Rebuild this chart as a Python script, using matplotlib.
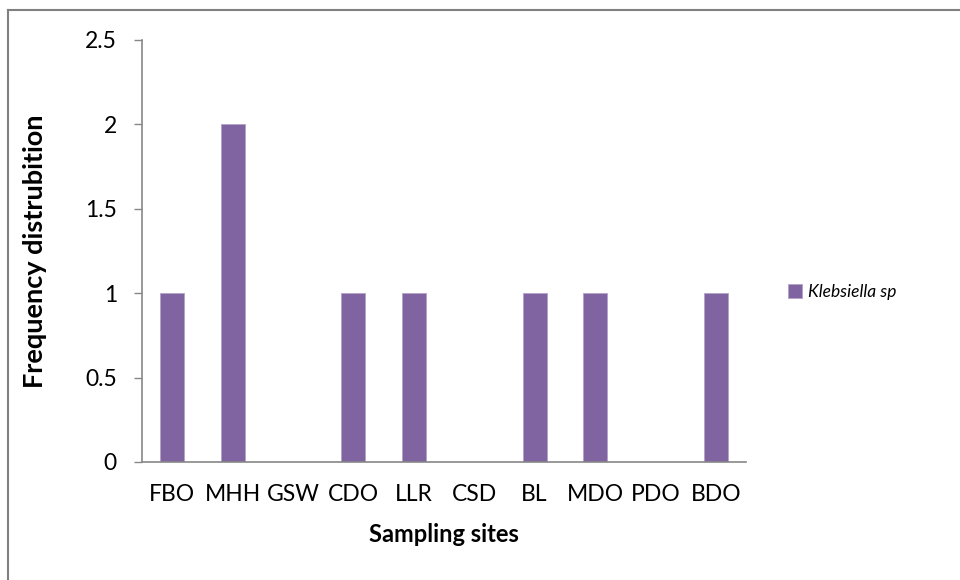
import matplotlib
matplotlib.use("Agg")
import matplotlib.pyplot as plt
from matplotlib.lines import Line2D
from matplotlib.patches import Patch

# Data
sites = ['FBO', 'MHH', 'GSW', 'CDO', 'LLR', 'CSD', 'BL', 'MDO', 'PDO', 'BDO']
klebsiella = [1, 2, 0, 1, 1, 0, 1, 1, 0, 1]
y_ticks = [0, 0.5, 1, 1.5, 2, 2.5]
y_ticklabels = ['0', '0.5', '1', '1.5', '2', '2.5']
series_name = 'Klebsiella sp'

bar_color = '#8064A2'
axis_color = '#878787'
W, H = 960, 580

plt.rcParams['font.family'] = ['Lato', 'DejaVu Sans']

fig = plt.figure(figsize=(W/100, H/100), dpi=100, facecolor='w')
ax = fig.add_axes([142/W, 1 - 462/H, (746-142)/W, (462-40)/H])

x = list(range(len(sites)))
ax.bar(x, klebsiella, width=0.4, color=bar_color, edgecolor='#B3A2C7', linewidth=0.6, zorder=2)

ax.set_xlim(-0.5, len(sites) - 0.5)
ax.set_ylim(0, 2.5)
ax.set_yticks(y_ticks)
ax.set_yticklabels(y_ticklabels)
ax.set_xticks(x)
ax.set_xticklabels(sites)

for s in ['top', 'right']:
    ax.spines[s].set_visible(False)
for s in ['left', 'bottom']:
    ax.spines[s].set_color(axis_color)
    ax.spines[s].set_linewidth(1.2)

ax.tick_params(axis='y', length=6, width=1, color=axis_color, labelsize=16.5, pad=12)
ax.tick_params(axis='x', length=0, labelsize=16.5, pad=16)

ax.set_xlabel('Sampling sites', fontsize=17, fontweight='bold', labelpad=13)
ax.set_ylabel('Frequency distrubition', fontsize=19.5, fontweight='bold')
ax.yaxis.set_label_coords(-(142 - 47) / (746 - 142), 0.5)

handle = Patch(facecolor=bar_color, edgecolor='#B3A2C7', linewidth=0.6)
leg = fig.legend([handle], [series_name], loc='center left',
                 bbox_to_anchor=(772/W, 1 - 292/H), frameon=False,
                 handlelength=0.8, handleheight=0.8, handletextpad=0.35,
                 prop={'size': 12.5, 'style': 'italic'})

# chart area border (left and top edges visible)
fig.add_artist(Line2D([8/W, 8/W], [0, 1 - 9.5/H], color='#808080', linewidth=1.5))
fig.add_artist(Line2D([8/W, 1], [1 - 9.5/H, 1 - 9.5/H], color='#808080', linewidth=1.5))

fig.savefig('out.png', dpi=100, facecolor='w')
